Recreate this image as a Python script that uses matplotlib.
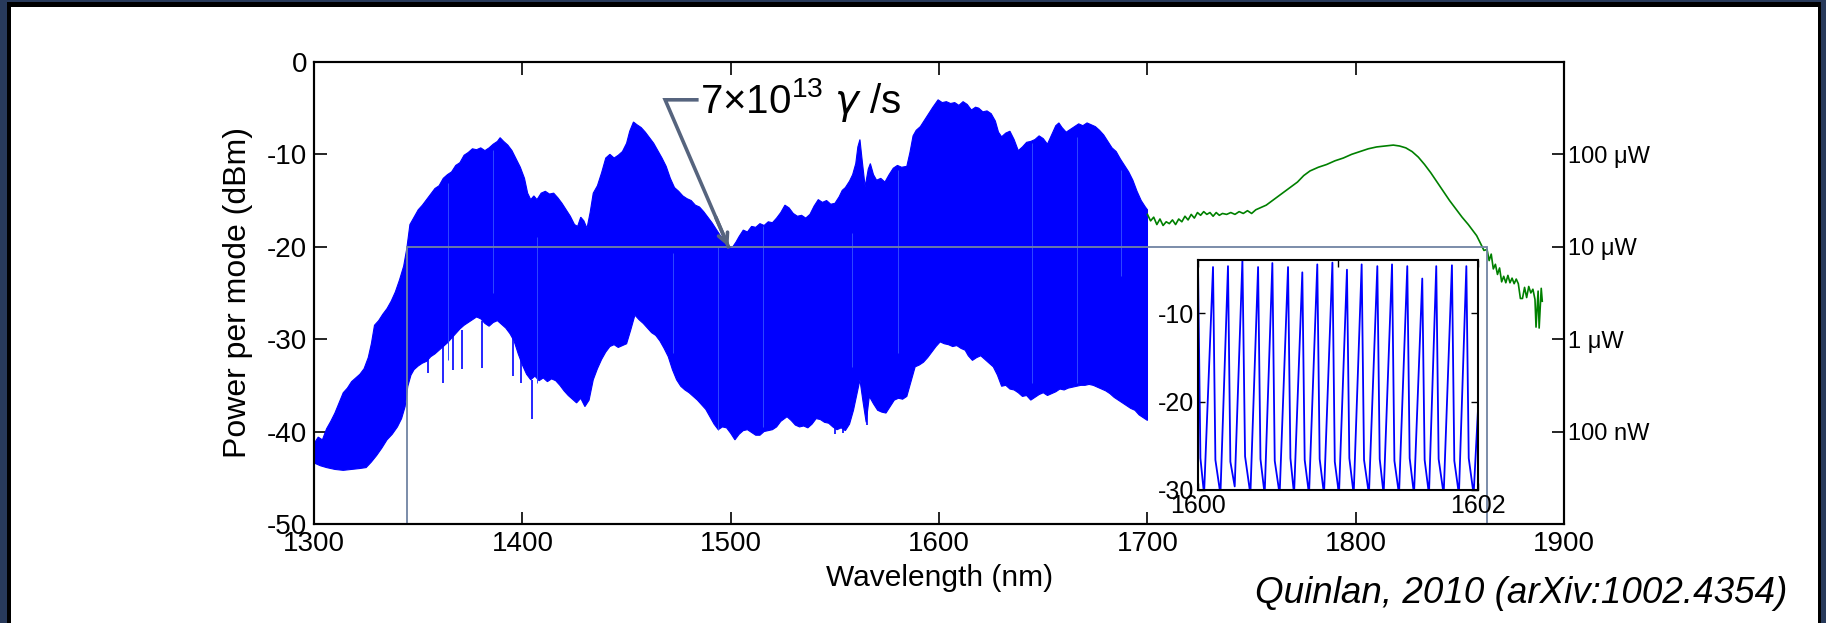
import matplotlib
matplotlib.use('Agg')
import matplotlib.pyplot as plt
import numpy as np
from matplotlib.patches import Rectangle

plt.rcParams['font.family'] = ['Liberation Sans', 'DejaVu Sans']
plt.rcParams['axes.unicode_minus'] = False
plt.rcParams['mathtext.fontset'] = 'custom'
plt.rcParams['mathtext.rm'] = 'Liberation Sans'
plt.rcParams['mathtext.it'] = 'DejaVu Sans:italic'

# comb envelope, upper edge (nm, dBm)
up_x = [1300, 1302, 1304, 1306, 1308, 1310, 1312, 1314, 1316, 1318, 1320, 1322, 1324, 1326, 1327.5,
        1329, 1331, 1333, 1335, 1337, 1339, 1341, 1343, 1344.5, 1346, 1348, 1350, 1352, 1354, 1356,
        1358, 1360, 1362, 1364, 1366, 1368, 1370, 1372, 1374, 1376, 1378, 1380, 1382, 1384, 1386,
        1388, 1389.3, 1391, 1393, 1395, 1397, 1399, 1401, 1402.5, 1404, 1405.5, 1407, 1409, 1411, 1413,
        1415, 1417, 1419, 1421, 1423, 1425, 1426.5, 1428, 1429.5, 1431, 1432.5, 1434, 1436, 1438, 1440,
        1442, 1444, 1446, 1448, 1450, 1451.5, 1453.3, 1455, 1457, 1459, 1461, 1463, 1465, 1467, 1469,
        1471, 1473, 1475, 1477, 1479, 1481, 1483, 1485, 1487, 1489, 1491, 1493, 1495, 1497, 1499.5,
        1501, 1502.5, 1504, 1506, 1508, 1510, 1512, 1514, 1516, 1518, 1520, 1522, 1524, 1526, 1528,
        1530, 1532, 1534, 1536, 1538, 1540, 1542, 1544, 1546, 1548, 1550, 1552, 1553.5, 1555, 1557,
        1558.5, 1560, 1561, 1562, 1563, 1564.5, 1566, 1567, 1568.5, 1570, 1572, 1574, 1576, 1578, 1580,
        1582, 1584.5, 1586, 1587.5, 1589, 1591, 1593, 1595, 1597, 1599.5, 1601.5, 1603.5, 1605.5, 1607.5, 1609.5,
        1611.5, 1613.5, 1615.5, 1617.5, 1619, 1621, 1623, 1625, 1627, 1628.5, 1630, 1632, 1634, 1636, 1638,
        1640, 1642, 1644, 1646, 1648, 1650, 1652, 1654, 1656, 1657.5, 1659, 1661, 1663, 1665, 1667,
        1669, 1671, 1673, 1675, 1677, 1679, 1681, 1683, 1685, 1687, 1689, 1691, 1693, 1695, 1697,
        1699, 1700]
up_y = [-41.3, -40.6, -40.9, -39.7, -38.9, -38.0, -36.9, -35.8, -35.3, -34.6, -34.2, -33.8, -33.2, -32.0, -30.5,
        -28.5, -28.0, -27.3, -26.7, -25.9, -24.9, -23.6, -22.1, -20.2, -17.6, -16.8, -16.0, -15.5, -14.9, -14.3,
        -13.7, -13.4, -12.6, -12.2, -11.9, -11.2, -10.9, -10.1, -9.8, -9.4, -9.5, -9.3, -9.6, -9.3, -8.9,
        -8.6, -8.2, -8.6, -9.0, -9.6, -10.5, -11.4, -12.6, -14.2, -14.9, -14.5, -14.9, -14.2, -14.0, -14.3,
        -14.2, -14.7, -15.3, -16.0, -16.7, -17.6, -17.8, -16.8, -17.2, -18.0, -16.3, -14.2, -13.4, -12.0, -10.4,
        -10.0, -10.4, -10.1, -9.7, -8.8, -7.5, -6.5, -6.8, -7.1, -7.6, -8.2, -8.8, -9.6, -10.4, -11.3,
        -12.6, -13.6, -14.0, -14.5, -14.8, -15.0, -15.5, -15.7, -16.2, -16.8, -17.4, -18.1, -18.8, -19.3, -20.0,
        -20.0, -19.5, -18.9, -18.2, -18.4, -17.8, -17.9, -17.5, -17.7, -17.3, -17.4, -16.9, -16.3, -15.5, -15.8,
        -16.4, -16.7, -16.6, -16.9, -16.5, -15.6, -14.9, -15.2, -15.0, -15.4, -15.3, -14.6, -13.9, -13.6, -12.9,
        -12.2, -11.0, -9.2, -8.4, -10.5, -13.5, -11.6, -11.0, -12.2, -12.8, -12.6, -13.0, -12.2, -11.5, -11.2,
        -11.4, -11.3, -9.8, -8.0, -7.4, -7.0, -6.3, -5.6, -4.9, -4.1, -4.4, -4.3, -4.5, -4.4, -4.7,
        -4.3, -4.6, -5.2, -4.9, -5.0, -5.4, -5.3, -5.6, -6.4, -7.6, -8.1, -7.7, -7.5, -8.4, -9.6,
        -9.2, -8.7, -8.6, -8.4, -8.0, -8.3, -8.9, -7.9, -6.9, -6.6, -7.1, -7.6, -7.3, -7.0, -6.7,
        -6.9, -6.6, -6.8, -7.0, -7.4, -7.9, -8.6, -9.3, -9.7, -10.5, -11.2, -11.9, -12.8, -14.0, -15.0,
        -15.7, -16.0]

# comb envelope, lower edge
low_x = [1300, 1303, 1306, 1310, 1314, 1318, 1322, 1325, 1327.5, 1330, 1332.5, 1335, 1337.5, 1340, 1342,
         1343.7, 1345, 1346.5, 1348, 1350, 1352, 1354, 1356, 1358, 1360, 1362, 1364, 1366, 1368, 1370,
         1372, 1374, 1376, 1378, 1380, 1382, 1384, 1386, 1388, 1390, 1392, 1394, 1396, 1398, 1400,
         1402, 1404, 1406, 1408, 1410, 1412, 1414, 1416, 1418, 1420, 1422, 1424, 1426, 1428, 1430,
         1432, 1434, 1436, 1438, 1440, 1442, 1444, 1446, 1448, 1450, 1452, 1454, 1456, 1458, 1460,
         1462, 1464, 1466, 1468, 1470, 1472, 1474, 1476, 1478, 1480, 1482, 1484, 1486, 1488, 1490,
         1492, 1494, 1496, 1498, 1500, 1502, 1504, 1506, 1508, 1510, 1512, 1514, 1516, 1518, 1520,
         1522, 1524, 1527, 1529, 1531, 1533, 1535, 1537, 1539, 1541, 1543, 1545, 1547, 1549, 1551,
         1553, 1555, 1557, 1558.9, 1560.5, 1562, 1563.5, 1565, 1566.5, 1568.5, 1570.5, 1572.5, 1574.5, 1576.5, 1578.5,
         1580.5, 1582.5, 1584.5, 1586.5, 1588.5, 1590.5, 1592.5, 1594.5, 1596.5, 1598.5, 1600.5, 1602.5, 1604.5, 1606.5, 1608.5,
         1610.5, 1612.5, 1614, 1616, 1618, 1620, 1622, 1624, 1626, 1628, 1630, 1632, 1634, 1636, 1638,
         1640, 1642, 1644, 1646, 1648, 1650, 1652, 1654, 1656, 1658, 1660, 1662, 1664, 1666, 1668,
         1670, 1672, 1674, 1676, 1678, 1680, 1682, 1684, 1686, 1688, 1690, 1692, 1694, 1696, 1698,
         1700]
low_y = [-43.4, -43.7, -43.9, -44.1, -44.2, -44.1, -44.0, -43.9, -43.3, -42.6, -41.8, -40.9, -40.3, -39.5, -38.6,
         -37.3, -35.1, -33.9, -33.3, -32.9, -32.6, -32.4, -31.9, -31.6, -31.2, -30.8, -30.4, -29.9, -29.4, -28.9,
         -28.5, -28.2, -27.9, -27.6, -27.8, -28.3, -28.6, -28.2, -28.0, -28.4, -28.8, -29.4, -30.2, -31.6, -32.8,
         -33.8, -34.4, -34.0, -34.5, -34.2, -34.6, -34.3, -34.5, -35.0, -35.6, -36.1, -36.5, -36.9, -36.4, -37.3,
         -36.6, -34.4, -33.2, -32.2, -31.4, -30.8, -30.6, -30.9, -30.7, -30.5, -29.0, -27.4, -27.9, -28.3, -28.8,
         -29.3, -29.6, -30.2, -31.0, -31.9, -33.3, -34.4, -35.1, -35.5, -35.8, -36.2, -36.6, -37.1, -37.6, -38.4,
         -39.2, -39.8, -39.5, -39.6, -40.2, -40.9, -40.3, -39.9, -39.8, -40.1, -40.4, -40.4, -40.0, -39.9, -39.8,
         -39.5, -38.9, -38.4, -38.8, -39.3, -39.5, -39.4, -39.6, -39.2, -38.6, -38.7, -39.0, -39.1, -39.5, -39.8,
         -39.6, -39.9, -39.2, -37.7, -36.0, -34.4, -36.8, -39.0, -36.2, -37.0, -37.7, -37.9, -38.0, -37.3, -36.6,
         -36.4, -36.5, -36.2, -34.6, -33.0, -32.8, -32.5, -32.0, -31.4, -30.8, -30.3, -30.5, -30.6, -30.8, -30.7,
         -31.0, -31.2, -31.8, -32.3, -32.0, -31.8, -32.2, -32.6, -33.0, -33.9, -35.1, -35.0, -35.4, -35.5, -35.8,
         -36.2, -36.1, -36.6, -36.3, -36.0, -35.8, -36.1, -35.9, -35.7, -35.4, -35.5, -35.3, -35.2, -35.1, -35.0,
         -35.0, -34.9, -35.0, -35.2, -35.4, -35.6, -35.9, -36.3, -36.6, -36.9, -37.2, -37.5, -37.7, -38.2, -38.5,
         -38.8]

# single comb lines sticking out below the envelope
spike_x = [1354.9, 1362.1, 1366.9, 1370.9, 1380.5, 1395.7, 1399.2, 1404.5, 1550.1, 1554.1, 1565.3]
spike_lo = [-33.7, -34.8, -33.3, -33.2, -33.1, -34.0, -34.8, -38.6, -40.3, -40.2, -39.3]
spike_hi = [-31.0, -30.0, -29.5, -29.0, -28.0, -29.5, -31.0, -34.4, -39.0, -39.0, -36.0]

# faint gaps inside the comb
gap_x = [1364.2, 1385.8, 1406.9, 1472.5, 1494.1, 1515.7, 1558.1, 1580.2, 1644.5, 1666.1, 1687.4]
gap_top = [-13.1, -9.5, -18.9, -20.7, -20.0, -17.8, -18.5, -11.7, -8.8, -8.1, -11.7]
gap_bot = [-32.3, -25.0, -34.8, -31.5, -39.8, -39.5, -33.0, -31.5, -34.8, -34.8, -23.2]

# OSA trace beyond 1700 nm
green_x = [1700.0, 1701.5, 1703.0, 1704.5, 1706.0, 1707.5, 1709.0, 1710.5, 1712.0, 1713.5,
           1715.0, 1716.5, 1718.0, 1719.5, 1721.0, 1722.5, 1724.0, 1725.5, 1727.0, 1728.5,
           1730.0, 1731.5, 1733.0, 1734.5, 1736.0, 1738.0, 1740.0, 1742.0, 1744.0, 1746.0,
           1748.0, 1750.0, 1752.0, 1754.0, 1757.0, 1760.0, 1763.0, 1766.0, 1769.0, 1772.0,
           1775.0, 1778.0, 1782.0, 1786.0, 1790.0, 1794.0, 1798.0, 1802.0, 1806.0, 1810.0,
           1814.0, 1818.0, 1821.0, 1824.0, 1827.0, 1830.0, 1833.0, 1836.0, 1839.0, 1842.0,
           1845.0, 1848.0, 1851.0, 1854.0, 1856.0, 1858.0, 1860.0, 1861.5, 1863.0, 1864.0,
           1865.0, 1866.0, 1867.0, 1868.0, 1869.0, 1870.0, 1871.0, 1872.0, 1873.0, 1874.0,
           1875.0, 1876.0, 1877.0, 1878.0, 1879.0, 1880.0, 1881.0, 1882.0, 1883.0, 1884.0,
           1885.0, 1886.0, 1886.5, 1887.5, 1888.0, 1889.0, 1889.5]
green_y = [-16.5, -17.2, -16.8, -17.6, -17.0, -17.7, -17.3, -17.5, -17.1, -17.6,
           -17.0, -17.3, -16.7, -17.1, -16.5, -16.9, -16.3, -16.6, -16.2, -16.5,
           -16.3, -16.7, -16.3, -16.6, -16.4, -16.5, -16.3, -16.5, -16.2, -16.4,
           -16.1, -16.4, -16.0, -15.8, -15.5, -15.0, -14.5, -14.0, -13.5, -13.0,
           -12.3, -11.8, -11.4, -11.1, -10.7, -10.4, -10.0, -9.7, -9.4, -9.2,
           -9.1, -9.0, -9.1, -9.3, -9.7, -10.3, -11.1, -12.0, -13.0, -14.0,
           -15.0, -15.9, -16.8, -17.6, -18.2, -18.8, -19.7, -20.4, -20.3, -21.5,
           -20.8, -22.4, -21.9, -23.0, -22.3, -23.8, -23.2, -23.9, -23.1, -23.9,
           -23.4, -24.0, -23.5, -24.0, -25.6, -25.6, -24.4, -25.5, -24.3, -25.0,
           -24.6, -25.7, -28.7, -24.8, -28.8, -24.5, -25.9]

# inset: resolved comb lines 1600-1602 nm
peak_x = [1600.107, 1600.214, 1600.317, 1600.429, 1600.531, 1600.643, 1600.745, 1600.852, 1600.960,
          1601.064, 1601.169, 1601.281, 1601.386, 1601.495, 1601.602, 1601.702, 1601.814, 1601.917]
peak_y = [-4.8, -4.7, -4.0, -4.8, -4.35, -4.8, -5.4, -4.5, -4.3,
          -5.1, -4.5, -4.7, -4.5, -4.7, -6.1, -4.7, -4.6, -4.7]
knee_x = [1600.017, 1600.124, 1600.231, 1600.336, 1600.446, 1600.548, 1600.660, 1600.762, 1600.869, 1600.977,
          1601.081, 1601.186, 1601.298, 1601.403, 1601.512, 1601.619, 1601.719, 1601.831, 1601.934]
knee_y = [-26.4, -26.6, -26.8, -26.2, -26.5, -26.7, -26.4, -26.6, -26.5, -26.8,
          -26.4, -26.6, -26.5, -26.7, -26.4, -26.6, -26.5, -26.7, -26.4]
trough_x = [1600.043, 1600.160, 1600.262, 1600.374, 1600.476, 1600.583, 1600.686, 1600.793, 1600.900, 1601.007,
            1601.112, 1601.221, 1601.326, 1601.436, 1601.543, 1601.650, 1601.755, 1601.864, 1601.969]
trough_y = [-30.5, -30.5, -29.6, -30.5, -30.5, -30.5, -30.5, -30.5, -30.5, -30.5,
            -30.5, -30.5, -30.5, -30.5, -30.5, -30.5, -30.5, -30.5, -30.5]
inset_start = (1600.0, -4.8)
inset_end = (1602.0, -21.0)

right_ticks = [-10, -20, -30, -40]
right_labels = ['100 \u03bcW', '10 \u03bcW', '1 \u03bcW', '100 nW']

fig = plt.figure(figsize=(18.26, 6.23), dpi=100)
fig.patch.set_facecolor('#283a5b')
fig.add_artist(Rectangle((0.0038, 0), 0.9935, 0.9968, transform=fig.transFigure,
                         facecolor='black', edgecolor='none', zorder=-10))
fig.add_artist(Rectangle((0.0060, 0), 0.9896, 0.9888, transform=fig.transFigure,
                         facecolor='white', edgecolor='none', zorder=-9))

ax = fig.add_axes([0.172, 0.159, 0.6846, 0.7416])
ax.set_facecolor('none')
ax.fill(np.concatenate([up_x, low_x[::-1]]), np.concatenate([up_y, low_y[::-1]]),
        facecolor='#0000ff', edgecolor='#0000ff', lw=0.8, zorder=2)
ax.vlines(spike_x, spike_lo, spike_hi, color='#0000ff', lw=1.2, zorder=2)
ax.vlines(gap_x, gap_bot, gap_top, color='#2f48ff', lw=0.7, zorder=2.1)
ax.plot(green_x, green_y, color='#008000', lw=1.2, zorder=2)

ax.add_patch(Rectangle((1344.6, -50), 1863 - 1344.6, 30, fill=False,
                       edgecolor='#7183a3', lw=1.3, zorder=3, clip_on=False))

acol = '#56647e'
ax.plot([1483.7, 1468.5, 1498.9], [-4.1, -4.1, -20.0], color=acol, lw=2.6,
        solid_joinstyle='miter', zorder=4)
ax.annotate('', xy=(1498.9, -20.0), xytext=(1492.8, -16.8),
            arrowprops=dict(arrowstyle='->,head_length=0.7,head_width=0.35', color=acol,
                            lw=2.6, shrinkA=0, shrinkB=0), zorder=4)
ax.text(1485.3, -5.55, '7\u00d710$^{13}$ $\\gamma$ /s', fontsize=29, va='baseline', ha='left')

ax.set_xlim(1300, 1900)
ax.set_ylim(-50, 0)
ax.set_xticks(np.arange(1300, 1901, 100))
ax.set_yticks(np.arange(-50, 1, 10))
ax.tick_params(direction='in', top=True, right=False, length=9, width=1.2, labelsize=20, pad=5)
for s in ax.spines.values():
    s.set_linewidth(1.5)
ax.set_xlabel('Wavelength (nm)', fontsize=21.5, labelpad=5)
ax.set_ylabel('Power per mode (dBm)', fontsize=23, labelpad=10)

ax2 = ax.twinx()
ax2.set_ylim(-50, 0)
ax2.set_yticks(right_ticks)
ax2.set_yticklabels(right_labels)
ax2.tick_params(direction='in', length=9, width=1.2, labelsize=17, pad=3)
for s in ax2.spines.values():
    s.set_linewidth(1.5)

# inset
ix = [inset_start[0]]
iy = [inset_start[1]]
for i in range(len(trough_x)):
    ix += [knee_x[i], trough_x[i]]
    iy += [knee_y[i], trough_y[i]]
    if i < len(peak_x):
        ix.append(peak_x[i])
        iy.append(peak_y[i])
ix.append(inset_end[0])
iy.append(inset_end[1])

axin = fig.add_axes([0.6561, 0.2135, 0.1533, 0.3692])
axin.set_facecolor('white')
axin.plot(ix, iy, color='#0000ff', lw=1.3)
axin.set_xlim(1600, 1602)
axin.set_ylim(-30, -4)
axin.set_xticks([1600, 1601, 1602])
axin.set_xticklabels(['1600', '', '1602'])
axin.set_yticks([-30, -20, -10])
axin.tick_params(direction='in', top=True, right=True, length=5, width=1, labelsize=18, pad=3)
for s in axin.spines.values():
    s.set_linewidth(1.5)

fig.text(0.979, 0.0466, 'Quinlan, 2010 (arXiv:1002.4354)', ha='right', va='center',
         fontsize=26.5, style='italic')

fig.savefig('out.png', dpi=100)
